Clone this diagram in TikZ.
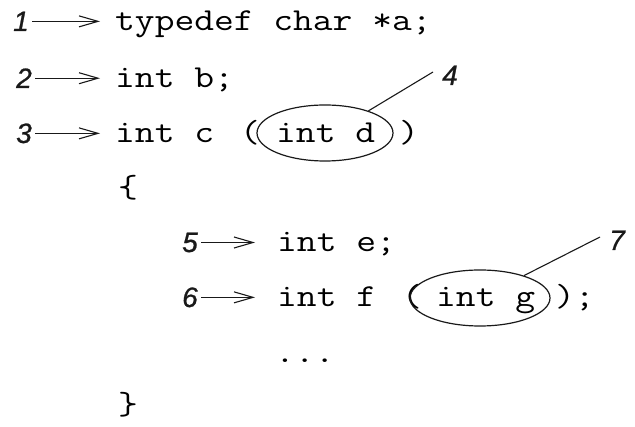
\documentclass[tikz,border=0pt]{standalone}
\usepackage{fontspec}
\newfontfamily\codefont{Latin Modern Mono}[FakeStretch=1.2]
\newfontfamily\numfont{Liberation Sans}[FakeBold=0.8]
\usetikzlibrary{shapes.geometric,arrows.meta}
\begin{document}
\begin{tikzpicture}[x=1pt,y=-1pt,
  code/.style={font=\fontsize{32}{36}\selectfont\codefont, inner sep=0pt, anchor=base west, text=black},
  num/.style={font=\fontsize{28}{32}\selectfont\numfont\itshape, inner sep=0pt, anchor=base east, text=black!90},
  arr/.style={-{Straight Barb[length=19pt,width=11pt]}, line width=1.1pt, draw=black!90, shorten <=3pt},
  oval/.style={ellipse, draw=black!90, line width=1.2pt, inner sep=0pt},
  lead/.style={line width=1.1pt, draw=black!90}]
\useasboundingbox (0,0) rectangle (635,427);
% code lines
\node[code] (l1) at (115,31) {typedef char *a;};
\node[code] (l2) at (115,88) {int b;};
\node[code] (l3) at (115,143) {int c};
\node[code] (p3) at (240,143) {(};
\node[code] (d3) at (276,143) {int d};
\node[code] (q3) at (399,143) {)};
\node[code, anchor=base] (ob) at (128,198) {\{};
\node[code] (l5) at (277,252) {int e;};
\node[code] (l6) at (277,307) {int f};
\node[code] (p6) at (402,307) {(};
\node[code] (g6) at (436,307) {int g};
\node[code] (q6) at (555,307) {);};
\node[code] (dots) at (275,363) {...};
\node[code, anchor=base] (cb) at (128,415) {\}};
% ellipses
\node[oval, minimum width=136pt, minimum height=56pt] (e1) at (325,133) {};
\node[oval, minimum width=140pt, minimum height=56pt] (e2) at (480,298) {};
% numbers
\node[num] (n1) at (29,31) {1};
\node[num] (n2) at (32,88) {2};
\node[num] (n3) at (32,143) {3};
\node[num] (n5) at (198,252) {5};
\node[num] (n6) at (198,307) {6};
\node[num, anchor=base west] (n4) at (442,85) {4};
\node[num, anchor=base west] (n7) at (609,250) {7};
% arrows
\draw[arr, shorten >=15pt] (n1.east) -- (n1.east -| l1.west);
\draw[arr, shorten >=15pt] (n2.east) -- (n2.east -| l2.west);
\draw[arr, shorten >=15pt] (n3.east) -- (n3.east -| l3.west);
\draw[arr, shorten >=22pt] (n5.east) -- (n5.east -| l5.west);
\draw[arr, shorten >=22pt] (n6.east) -- (n6.east -| l6.west);
% leaders
\coordinate (c4) at (433,72);
\coordinate (c7) at (600,237);
\draw[lead] (e1.27) -- (c4);
\draw[lead] (e2.27) -- (c7);
\end{tikzpicture}
\end{document}
